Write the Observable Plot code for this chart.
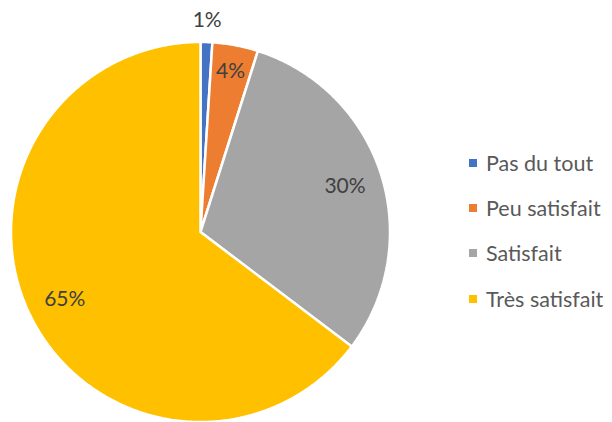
<!DOCTYPE html>
<html>
<head>
<meta charset="utf-8">
<script src="https://cdn.jsdelivr.net/npm/d3@7"></script>
<script src="https://cdn.jsdelivr.net/npm/@observablehq/plot@0.6"></script>
<style>
  html, body { margin: 0; padding: 0; background: #fff; }
  #wrap { position: relative; width: 612px; height: 422px; overflow: hidden; font-family: Lato, "Open Sans", sans-serif; }
  #legend { position: absolute; left: 469px; top: 0; }
  .item { position: absolute; left: 0; display: flex; align-items: center; white-space: nowrap; font-size: 21.5px; color: #595959; transform: translateY(-50%); }
  .sw { width: 8px; height: 8px; margin-right: 9px; display: inline-block; }
</style>
</head>
<body>
<div id="wrap"><div id="chart"></div><div id="legend"></div></div>
<script>
const categories = ["Pas du tout", "Peu satisfait", "Satisfait", "Très satisfait"];
const values = [1.0, 3.9, 30.4, 64.7];
const colors = ["#4472C4", "#ED7D31", "#A5A5A5", "#FFC000"];

const total = d3.sum(values);
let cum = 0;
const slices = categories.map((c, i) => {
  const a0 = cum / total * 2 * Math.PI;
  cum += values[i];
  const a1 = cum / total * 2 * Math.PI;
  return {cat: c, value: values[i], a0, a1};
});

// polygon points for each wedge
const pts = [];
for (const s of slices) {
  pts.push({cat: s.cat, x: 0, y: 0});
  const n = Math.max(2, Math.ceil((s.a1 - s.a0) / (Math.PI / 360)));
  for (let k = 0; k <= n; k++) {
    const a = s.a0 + (s.a1 - s.a0) * k / n;
    pts.push({cat: s.cat, x: Math.sin(a), y: Math.cos(a)});
  }
  pts.push({cat: s.cat, x: 0, y: 0});
}

const labels = slices.map(s => {
  const m = (s.a0 + s.a1) / 2;
  const frac = s.value / total;
  const r = frac < 0.02 ? 1.115 : frac < 0.1 ? 0.86 : 0.8;
  return {text: Math.round(s.value) + "%", x: r * Math.sin(m), y: r * Math.cos(m)};
});

const chart = Plot.plot({
  width: 612,
  height: 422,
  marginLeft: 10.5,
  marginRight: 222.5,
  marginTop: 41.5,
  marginBottom: 0.5,
  x: {domain: [-1, 1], axis: null},
  y: {domain: [-1, 1], axis: null},
  color: {domain: categories, range: colors},
  style: {fontFamily: "Lato, 'Open Sans', sans-serif", overflow: "visible"},
  marks: [
    Plot.line(pts, {x: "x", y: "y", z: "cat", fill: "cat", stroke: "white", strokeWidth: 2.5, strokeLinejoin: "miter", curve: "linear"}),
    Plot.text(labels, {x: "x", y: "y", text: "text", fontSize: 21, fill: "#404040"})
  ]
});
document.getElementById("chart").appendChild(chart);

const legendRows = [163, 208, 253, 299];
const lg = document.getElementById("legend");
categories.forEach((c, i) => {
  const d = document.createElement("div");
  d.className = "item";
  d.style.top = legendRows[i] + "px";
  d.innerHTML = `<span class="sw" style="background:${colors[i]}"></span><span>${c}</span>`;
  lg.appendChild(d);
});
</script>
</body>
</html>
